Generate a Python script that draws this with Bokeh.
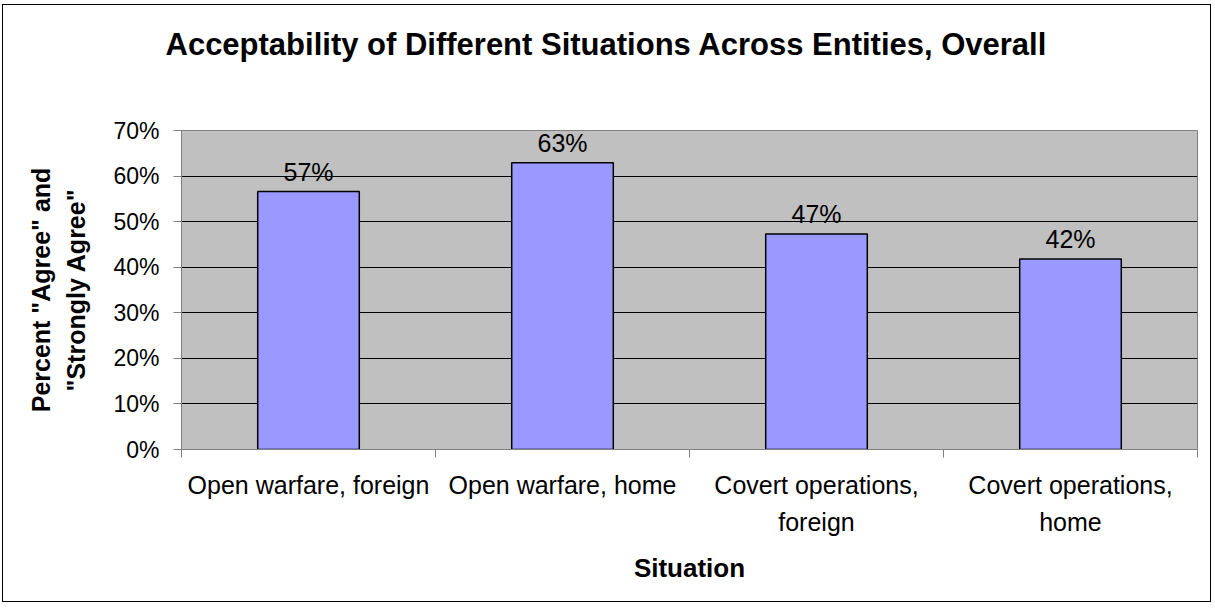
from bokeh.plotting import figure
from bokeh.models import Range1d, FixedTicker, NumeralTickFormatter, Title
from bokeh.core.properties import value
from bokeh.embed import file_html
from bokeh.resources import INLINE

# ---- data ----
categories = ["Open warfare, foreign", "Open warfare, home",
              "Covert operations,\nforeign", "Covert operations,\nhome"]
values = [0.566, 0.629, 0.473, 0.418]
value_labels = ["57%", "63%", "47%", "42%"]
y_ticks = [0.0, 0.1, 0.2, 0.3, 0.4, 0.5, 0.6, 0.7]
title_text = "Acceptability of Different Situations Across Entities, Overall"

FONT = "Liberation Sans"

xs = [i + 0.5 for i in range(len(categories))]

p = figure(width=1209, height=598, output_backend="svg", toolbar_location=None,
           x_range=Range1d(0, len(categories)), y_range=Range1d(0, 0.7),
           min_border_left=178, min_border_right=15, min_border_top=125,
           min_border_bottom=154, title=None)

p.background_fill_color = "#C0C0C0"
p.border_fill_color = "white"
p.outline_line_color = "#808080"
p.outline_line_width = 1
p.styles = {"border": "1px solid black", "margin-left": "2px", "margin-top": "4px"}

# bars
p.vbar(x=xs, top=values, width=0.4, bottom=0, fill_color="#9999FF",
       line_color="black", line_width=1.5)

# value labels
p.text(x=xs, y=values, text=value_labels, text_align="center",
       text_baseline="alphabetic", y_offset=-20,
       text_font=value(FONT), text_font_size="25px", text_color="black")

# y axis
yax = p.yaxis[0]
yax.ticker = FixedTicker(ticks=y_ticks)
yax.formatter = NumeralTickFormatter(format="0%")
yax.major_label_text_font = FONT
yax.major_label_text_font_size = "23px"
yax.major_label_text_color = "black"
yax.major_tick_out = 8
yax.major_tick_in = 0
yax.minor_tick_out = 0
yax.minor_tick_in = 0
yax.major_label_standoff = 14
yax.axis_line_color = "#808080"
yax.major_tick_line_color = "#808080"
yax.axis_label = 'Percent "Agree" and\n"Strongly Agree"'
yax.axis_label_text_font = FONT
yax.axis_label_text_font_size = "25px"
yax.axis_label_text_font_style = "bold"
yax.axis_label_text_color = "black"
yax.axis_label_text_line_height = 1.25
yax.axis_label_standoff = 20

# x axis
xax = p.xaxis[0]
xax.ticker = FixedTicker(ticks=xs, minor_ticks=[float(i) for i in range(len(categories) + 1)])
xax.major_label_overrides = {x: c for x, c in zip(xs, categories)}
xax.major_label_text_font = FONT
xax.major_label_text_font_size = "25px"
xax.major_label_text_line_height = 1.35
xax.major_label_text_color = "black"
xax.major_tick_out = 0
xax.major_tick_in = 0
xax.minor_tick_out = 8
xax.minor_tick_in = 0
xax.minor_tick_line_color = "#808080"
xax.axis_line_color = "#808080"
xax.major_label_standoff = 13
xax.axis_label = "Situation"
xax.axis_label_text_font = FONT
xax.axis_label_text_font_size = "26px"
xax.axis_label_text_font_style = "bold"
xax.axis_label_text_color = "black"
xax.axis_label_standoff = 14

# grid
p.xgrid.grid_line_color = None
p.ygrid.grid_line_color = "black"
p.ygrid.grid_line_width = 1

# title (trailing empty line lifts it well above the plot area)
p.add_layout(Title(text=title_text + "\n",
                   align="left", offset=-16, standoff=0, vertical_align="top",
                   text_font=FONT, text_font_size="31px", text_font_style="bold",
                   text_line_height=1.92, text_color="black"), "above")

open("out.html", "w").write(file_html(p, INLINE))
